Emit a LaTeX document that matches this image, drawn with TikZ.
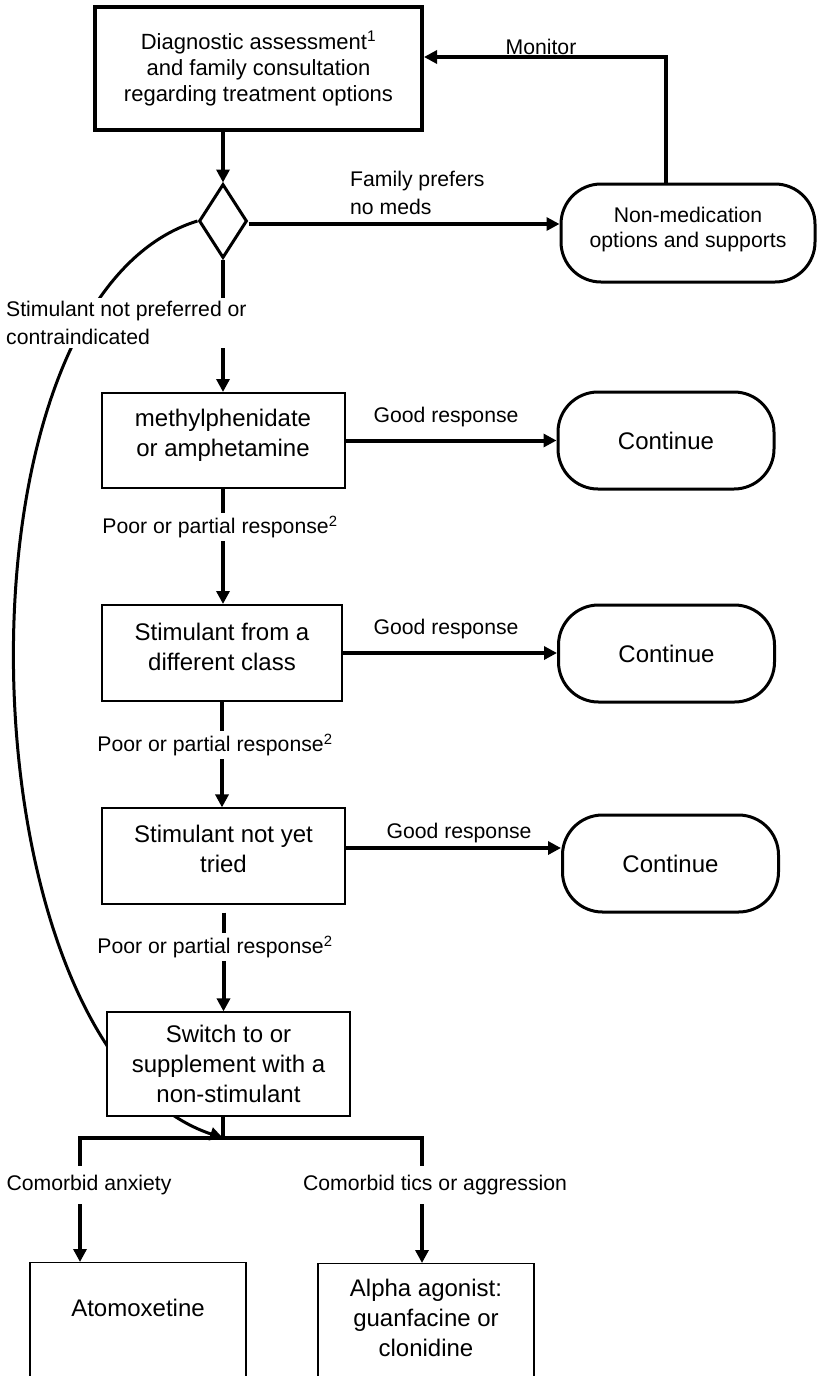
\documentclass[tikz,border=0pt]{standalone}
\usepackage{fontspec}
\setmainfont{Liberation Sans}
\usetikzlibrary{arrows.meta}
\usetikzlibrary{shapes.geometric}
\usetikzlibrary{backgrounds}
\newcommand{\boxfont}{\fontsize{24}{30}\selectfont}
\newcommand{\topfont}{\fontsize{22}{26}\selectfont}
\newcommand{\lblfont}{\fontsize{21.2}{27.5}\selectfont}
\tikzset{
	% boxes
	box/.style={draw=black, rectangle, fill=white, align=center, inner sep=0pt, font=\boxfont},
	thinbox/.style={box, line width=1.2pt},
	midbox/.style={box, line width=2pt},
	endbox/.style={box, rounded corners=40pt, line width=3pt, minimum width=216pt, minimum height=97pt},
	decision/.style={draw=black, diamond, fill=white, inner sep=0pt, line width=3pt, minimum width=48pt, minimum height=74pt},
	% connectors
	flow/.style={draw=black, line width=4pt, ->},
	branch/.style={draw=black, line width=4pt},
	bypass/.style={draw=black, line width=3pt, ->},
	% labels
	lbl/.style={font=\lblfont, inner sep=3pt, align=left},
	gap/.style={lbl, fill=white},
}
\begin{document}
\begin{tikzpicture}[x=1pt, y=-1pt, >={Triangle[length=13pt,width=13pt]}]
		\useasboundingbox (0,0) rectangle (817,1376);
		\clip (0,0) rectangle (817,1376);
		\node[box, line width=4pt, font=\topfont, minimum width=327pt, minimum height=123pt] (diag) at (258.5,68.5) {Diagnostic assessment\textsuperscript{1}\\and family consultation\\regarding treatment options};
		\node[decision] (dec) at (223,221) {};
		\node[endbox, font={\fontsize{21.2}{25}\selectfont}, text depth=10.5pt, minimum width=254pt, minimum height=98pt] (nonmed) at (688,233) {Non-medication\\options and supports};
		\node[midbox, text depth=15pt, minimum width=243pt, minimum height=95pt] (methyl) at (223,440.5) {methylphenidate\\or amphetamine};
		\node[endbox] (cont1) at (666,440.5) {Continue};
		\node[midbox, text depth=12pt, minimum width=240pt, minimum height=96pt] (stimdiff) at (222,653) {Stimulant from a\\different class};
		\node[endbox] (cont2) at (666.5,653.5) {Continue};
		\node[thinbox, text depth=14pt, minimum width=243pt, minimum height=96pt] (stimnot) at (223.5,856) {Stimulant not yet\\tried};
		\node[endbox] (cont3) at (670.5,863.5) {Continue};
		\node[thinbox, minimum width=243pt, minimum height=104pt] (switch) at (228.5,1064) {Switch to or\\supplement with a\\non-stimulant};
		\node[thinbox, minimum width=216pt, minimum height=160pt, anchor=north] (atomo) at (138,1262) {};
		\node[font=\boxfont] (atomotext) at (atomo.north |- 0,1308) {Atomoxetine};
		\node[thinbox, minimum width=216pt, minimum height=160pt, anchor=north] (alpha) at (426,1263) {};
		\node[font=\boxfont, align=center] (alphatext) at (alpha.north |- 0,1318) {Alpha agonist:\\guanfacine or\\clonidine};

		\coordinate (mon) at (666,57);
		\coordinate (jn) at (223,1138);
		\coordinate (lft) at (80,1138);
		\coordinate (rgt) at (422,1138);

		\draw[flow] (diag.south -| dec.north) -- (dec.north);
		\draw[flow] ([yshift=-3pt]dec.east) -- ([yshift=-3pt]dec.east -| nonmed.west);
		\draw[flow] (nonmed.north -| mon) -- (mon) -- (mon -| diag.east);
		\draw[flow] (dec.south) -- (dec.south |- methyl.north);
		\draw[flow] (methyl.east) -- (cont1.west);
		\draw[flow] (methyl.south) -- (methyl.south |- stimdiff.north);
		\draw[flow] (stimdiff.east) -- (stimdiff.east -| cont2.west);
		\draw[flow] (stimdiff.south) -- (stimdiff.south |- stimnot.north);
		\draw[flow] ([yshift=8pt]stimnot.east) -- ([yshift=8pt]stimnot.east -| cont3.west);
		\draw[flow, shorten <=8pt] (stimnot.south) -- (stimnot.south |- switch.north);
		\draw[branch] (switch.south -| jn) -- (jn);
		\draw[flow] (jn) -| (lft |- atomo.north);
		\draw[flow] (jn) -| (rgt |- alpha.north);
		\begin{pgfonlayer}{background}
			\draw[bypass] (dec.west) .. controls (-60,300) and (-40,1050) .. (jn);
		\end{pgfonlayer}

		\node[lbl] (monlbl) at (541,47) {Monitor};
		\node[lbl, anchor=west] (famlbl) at (347,193) {Family prefers\\no meds};
		\node[gap, anchor=west] (stimlbl) at (3,323) {Stimulant not preferred or\\contraindicated};
		\node[lbl] (good1) at (446,417) {Good response};
		\node[lbl] (good2) at (446,629) {Good response};
		\node[lbl] (good3) at (459,833) {Good response};
		\node[gap] (poor1) at (220,527) {Poor or partial response\textsuperscript{2}};
		\node[gap] (poor2) at (215,745) {Poor or partial response\textsuperscript{2}};
		\node[gap] (poor3) at (215,947) {Poor or partial response\textsuperscript{2}};
		\node[gap, inner ysep=9pt] (anxlbl) at (89,1185) {Comorbid anxiety};
		\node[gap, inner ysep=9pt] (ticlbl) at (435,1185) {Comorbid tics or aggression};
	 \end{tikzpicture}
\end{document}
